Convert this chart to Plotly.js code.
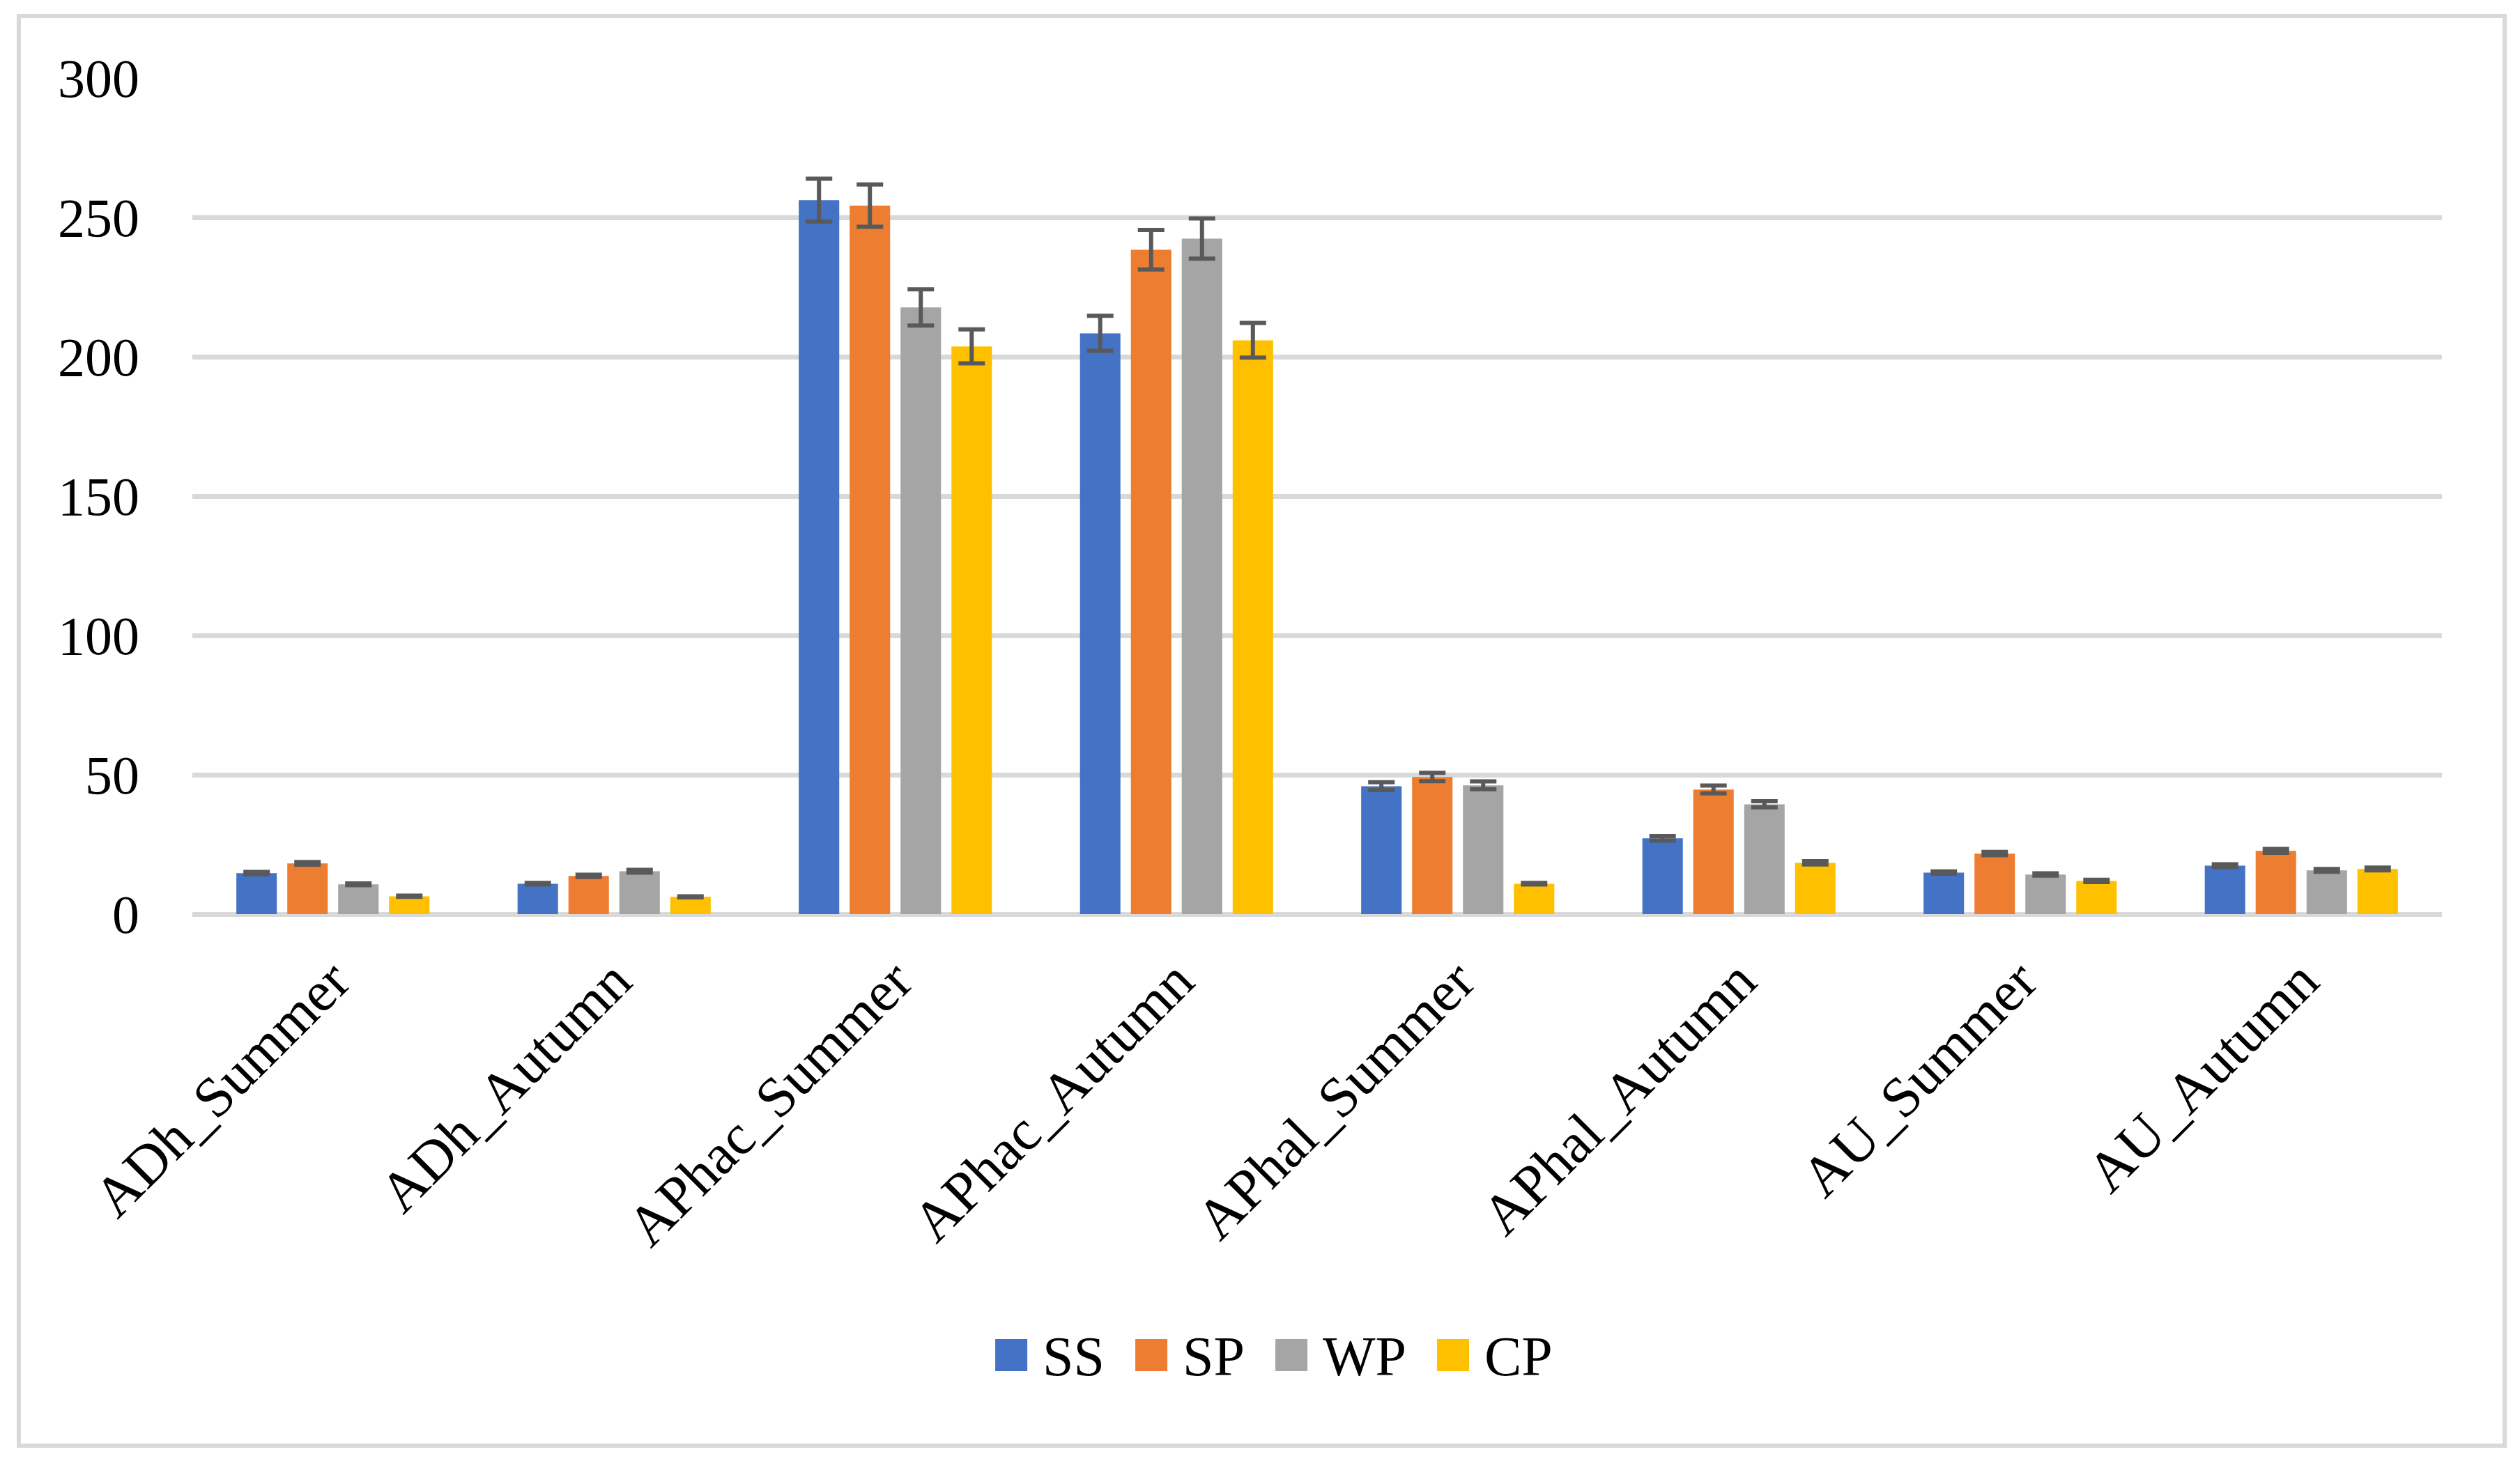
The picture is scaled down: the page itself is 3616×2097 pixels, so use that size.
<!DOCTYPE html>
<html>
<head>
<meta charset="utf-8">
<script src="https://cdn.plot.ly/plotly-3.0.1.min.js"></script>
<style>
  html, body { margin: 0; padding: 0; background: #ffffff; width: 3616px; height: 2097px; overflow: hidden; }
  #frame { position: absolute; left: 24px; top: 20px; width: 3573px; height: 2058px; border: 6px solid #D9D9D9; box-sizing: border-box; background: #fff; }
  #chart { position: absolute; left: 0; top: 0; width: 3561px; height: 2046px; }
</style>
</head>
<body>
<div id="frame"><div id="chart"></div></div>
<script>
const categories = ["ADh_Summer", "ADh_Autumn", "APhac_Summer", "APhac_Autumn", "APhal_Summer", "APhal_Autumn", "AU_Summer", "AU_Autumn"];
const seriesNames = ["SS", "SP", "WP", "CP"];
const seriesColors = ["#4472C4", "#ED7D31", "#A5A5A5", "#FFC000"];
const ssValues = [14.7, 10.9, 256.2, 208.4, 45.9, 27.2, 14.9, 17.4];
const spValues = [18.2, 13.7, 254.2, 238.4, 49.2, 44.7, 21.7, 22.7];
const wpValues = [10.7, 15.4, 217.7, 242.4, 46.2, 39.4, 14.2, 15.7];
const cpValues = [6.4, 6.2, 203.7, 205.9, 10.9, 18.4, 11.9, 16.2];
const ssErrors = [0.4, 0.3, 7.7, 6.3, 1.4, 0.8, 0.4, 0.5];
const spErrors = [0.5, 0.4, 7.6, 7.1, 1.5, 1.4, 0.6, 0.7];
const wpErrors = [0.3, 0.5, 6.5, 7.2, 1.4, 1.1, 0.4, 0.5];
const cpErrors = [0.2, 0.2, 6.1, 6.2, 0.3, 0.6, 0.4, 0.5];
const yTickValues = [0, 50, 100, 150, 200, 250, 300];

const allValues = [ssValues, spValues, wpValues, cpValues];
const allErrors = [ssErrors, spErrors, wpErrors, cpErrors];

const FONT = "Liberation Serif, Times New Roman, serif";

const traces = seriesNames.map((name, i) => ({
  type: "bar",
  name: name,
  x: categories,
  y: allValues[i],
  marker: { color: seriesColors[i], line: { width: 0 } },
  error_y: { type: "data", array: allErrors[i], visible: true, color: "#595959", thickness: 6, width: 19 },
  showlegend: false,
  hoverinfo: "x+y+name"
}));

// plot geometry in div pixels
const W = 3561, H = 2046;
const M = { l: 246, r: 87, t: 86, b: 760 };
const plotW = W - M.l - M.r, plotH = H - M.t - M.b;

// custom legend (large square swatches like the original)
const legendFontSize = 80;
const ctx = document.createElement("canvas").getContext("2d");
ctx.font = legendFontSize + "px 'Liberation Serif'";
const swatch = 46, textGap = 20, itemGap = 46;
const widths = seriesNames.map(n => swatch + textGap + ctx.measureText(n).width);
const totalW = widths.reduce((a, b) => a + b, 0) + itemGap * (seriesNames.length - 1);
const legendCenterX = 1827 - 30; // div px
const legendCenterY = 1945 - 26; // div px
let cx = legendCenterX - totalW / 2;
const shapes = [], annotations = [];
const px2x = p => (p - M.l) / plotW;
const px2y = p => (M.t + plotH - p) / plotH;
seriesNames.forEach((n, i) => {
  shapes.push({
    type: "rect", xref: "paper", yref: "paper",
    x0: px2x(cx), x1: px2x(cx + swatch),
    y0: px2y(legendCenterY - swatch / 2), y1: px2y(legendCenterY + swatch / 2),
    fillcolor: seriesColors[i], line: { width: 0 }
  });
  annotations.push({
    xref: "paper", yref: "paper", x: px2x(cx + swatch + textGap), y: px2y(legendCenterY + 2),
    xanchor: "left", yanchor: "middle", showarrow: false, text: n,
    font: { family: FONT, size: legendFontSize, color: "#000" }
  });
  cx += widths[i] + itemGap;
});

const layout = {
  width: W, height: H,
  margin: M,
  paper_bgcolor: "#ffffff", plot_bgcolor: "#ffffff",
  barmode: "group",
  bargap: 0.276,
  bargroupgap: 0.205,
  showlegend: false,
  font: { family: FONT, size: 76, color: "#000" },
  xaxis: {
    type: "category",
    tickangle: -45,
    showgrid: false, showline: false, zeroline: false,
    ticks: "",
    ticklabelstandoff: 30,
    tickfont: { family: FONT, size: 82, color: "#000" }
  },
  yaxis: {
    range: [0, 300],
    tickvals: yTickValues,
    ticktext: yTickValues.map(String),
    showgrid: true, gridcolor: "#D9D9D9", gridwidth: 7,
    zeroline: true, zerolinecolor: "#D9D9D9", zerolinewidth: 7,
    showline: false, ticks: "",
    ticklabelstandoff: 75,
    tickfont: { family: FONT, size: 78, color: "#000" }
  },
  shapes: shapes,
  annotations: annotations
};

Plotly.newPlot("chart", traces, layout, { displayModeBar: false, staticPlot: true });
</script>
</body>
</html>
